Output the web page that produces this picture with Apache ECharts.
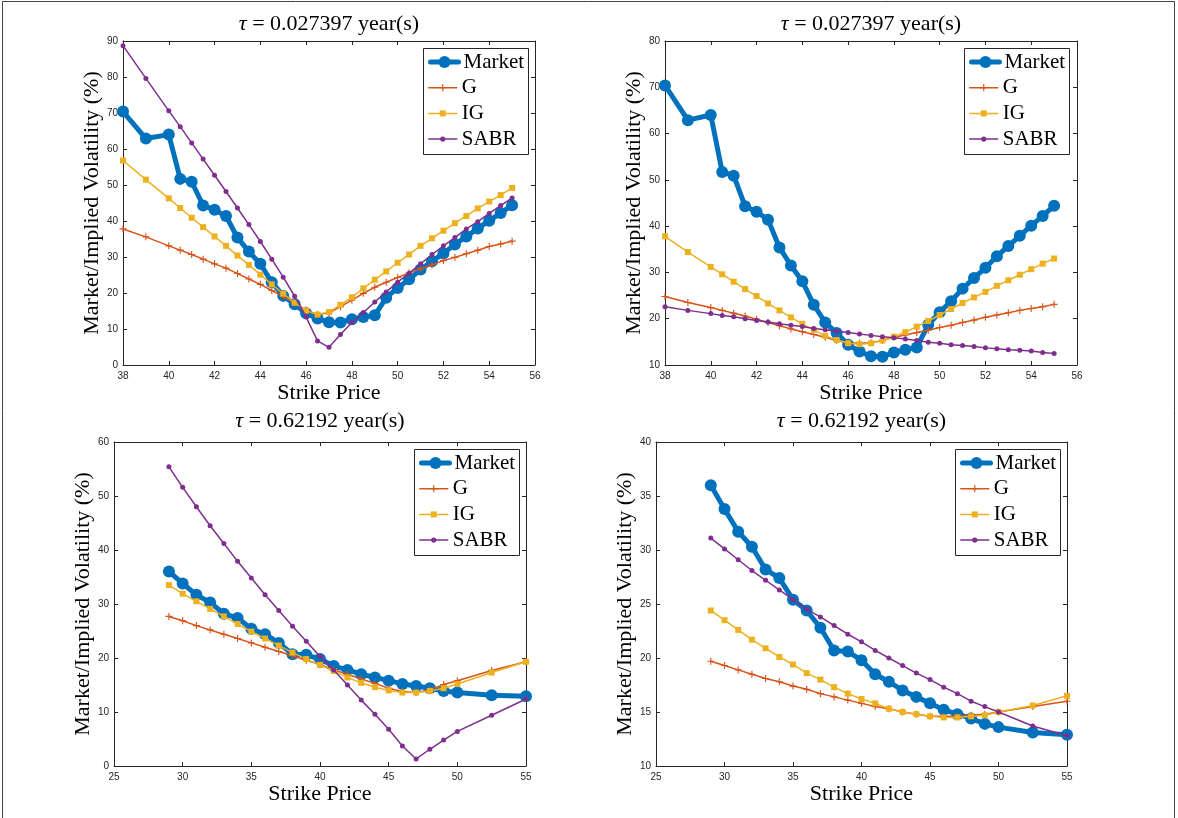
<!DOCTYPE html>
<html><head><meta charset="utf-8">
<script src="https://cdn.jsdelivr.net/npm/echarts@6/dist/echarts.min.js"></script>
<style>html,body{margin:0;padding:0;background:#fff}#c{width:1178px;height:818px}</style>
</head><body><div id="c"></div>
<script>
// ---- data ----
const strikeShort = [38, 39, 40, 40.5, 41, 41.5, 42, 42.5, 43, 43.5, 44, 44.5, 45, 45.5, 46, 46.5, 47, 47.5, 48, 48.5, 49, 49.5, 50, 50.5, 51, 51.5, 52, 52.5, 53, 53.5, 54, 54.5, 55];
const strikeLong = [29, 30, 31, 32, 33, 34, 35, 36, 37, 38, 39, 40, 41, 42, 43, 44, 45, 46, 47, 48, 49, 50, 52.5, 55];

const marketShort = [70.4, 62.9, 64.0, 51.7, 50.9, 44.3, 43.1, 41.4, 35.4, 31.5, 28.1, 23.0, 19.2, 16.9, 14.4, 12.9, 11.9, 11.8, 12.7, 13.3, 13.8, 18.7, 21.4, 23.8, 26.5, 28.8, 31.0, 33.5, 35.7, 37.9, 40.1, 42.2, 44.4];
const gShortA = [37.8, 35.6, 33.1, 31.9, 30.7, 29.4, 28.1, 26.9, 25.4, 23.9, 22.4, 20.7, 19.0, 17.2, 15.3, 14.0, 14.5, 16.2, 18.0, 19.9, 21.6, 23.0, 24.3, 25.6, 26.7, 27.8, 29.0, 29.9, 30.9, 31.9, 32.9, 33.6, 34.4];
const igShortA = [56.8, 51.5, 46.3, 43.6, 40.9, 38.3, 35.7, 33.1, 30.4, 27.8, 25.1, 22.4, 19.8, 17.3, 15.1, 14.0, 14.7, 16.7, 18.8, 21.3, 23.7, 26.0, 28.4, 30.7, 33.1, 35.2, 37.3, 39.4, 41.4, 43.5, 45.4, 47.2, 49.2];
const sabrShortA = [88.7, 79.6, 70.6, 66.2, 61.7, 57.2, 52.7, 48.2, 43.6, 39.0, 34.3, 29.4, 24.4, 19.1, 13.3, 6.7, 4.9, 8.5, 11.8, 14.6, 17.5, 20.3, 23.0, 25.5, 28.1, 30.7, 33.1, 35.4, 37.8, 39.8, 42.1, 44.3, 46.4];
const gShortB = [24.8, 23.5, 22.4, 21.8, 21.2, 20.6, 19.9, 19.2, 18.5, 17.8, 17.2, 16.6, 16.0, 15.3, 14.8, 14.7, 14.8, 15.3, 16.0, 16.5, 17.0, 17.5, 18.1, 18.6, 19.2, 19.7, 20.3, 20.8, 21.3, 21.8, 22.2, 22.6, 23.1];
const igShortB = [37.8, 34.4, 31.2, 29.6, 28.0, 26.4, 24.9, 23.3, 21.8, 20.3, 18.9, 17.6, 16.3, 15.4, 14.7, 14.5, 14.7, 15.3, 16.1, 17.1, 18.3, 19.5, 20.8, 22.1, 23.4, 24.6, 25.8, 27.1, 28.3, 29.5, 30.7, 31.9, 33.0];
const sabrShortB = [22.6, 21.8, 21.1, 20.7, 20.4, 20.0, 19.6, 19.3, 18.9, 18.6, 18.3, 17.9, 17.6, 17.3, 17.0, 16.7, 16.4, 16.1, 15.9, 15.6, 15.3, 14.9, 14.7, 14.4, 14.2, 14.0, 13.7, 13.5, 13.3, 13.2, 13.0, 12.7, 12.5];

const marketLong = [36.0, 33.8, 31.7, 30.3, 28.2, 27.4, 25.4, 24.4, 22.8, 20.7, 20.6, 19.8, 18.5, 17.8, 17.0, 16.4, 15.8, 15.2, 14.8, 14.4, 13.9, 13.6, 13.1, 12.9];
const gLongA = [27.7, 26.9, 26.0, 25.2, 24.4, 23.6, 22.8, 22.0, 21.2, 20.4, 19.6, 18.8, 17.8, 17.0, 16.1, 15.3, 14.4, 13.8, 13.6, 14.1, 15.1, 15.8, 17.7, 19.3];
const igLongA = [33.5, 31.9, 30.5, 29.1, 27.7, 26.3, 24.9, 23.6, 22.3, 21.0, 19.8, 18.7, 17.6, 16.4, 15.4, 14.6, 14.0, 13.6, 13.6, 13.9, 14.4, 15.2, 17.3, 19.3];
const sabrLongA = [55.4, 51.6, 48.0, 44.5, 41.2, 37.9, 34.8, 31.7, 28.8, 25.9, 23.1, 20.3, 17.8, 15.0, 12.2, 9.6, 6.8, 3.7, 1.3, 3.1, 4.8, 6.4, 9.4, 12.4];
const gLongB = [19.7, 19.3, 18.9, 18.5, 18.1, 17.8, 17.4, 17.1, 16.7, 16.4, 16.1, 15.8, 15.5, 15.3, 15.0, 14.8, 14.6, 14.6, 14.6, 14.7, 14.8, 15.0, 15.5, 16.0];
const igLongB = [24.4, 23.5, 22.6, 21.7, 20.9, 20.1, 19.4, 18.6, 18.0, 17.3, 16.7, 16.2, 15.8, 15.3, 15.0, 14.8, 14.6, 14.5, 14.5, 14.6, 14.7, 15.0, 15.6, 16.5];
const sabrLongB = [31.1, 30.1, 29.1, 28.1, 27.2, 26.3, 25.4, 24.5, 23.8, 23.0, 22.2, 21.5, 20.7, 20.0, 19.3, 18.6, 18.0, 17.3, 16.7, 16.0, 15.5, 15.0, 13.7, 12.8];

const seriesNames = ['Market', 'G', 'IG', 'SABR'];
const tauLabels = ['0.027397', '0.027397', '0.62192', '0.62192'];
const xAxisLabel = 'Strike Price';
const yAxisLabel = 'Market/Implied Volatility (%)';

// ---- layout / style ----
const panels = [
  { grid: { left: 123, top: 41, width: 412, height: 324 }, x: [38, 56, 2], y: [0, 90, 10], titleTop: 13, yGap: 19,
    strikes: strikeShort, vals: [marketShort, gShortA, igShortA, sabrShortA], box: [423, 48] },
  { grid: { left: 665, top: 41, width: 412, height: 324 }, x: [38, 56, 2], y: [10, 80, 10], titleTop: 13, yGap: 18,
    strikes: strikeShort, vals: [marketShort, gShortB, igShortB, sabrShortB], box: [964, 48] },
  { grid: { left: 114, top: 442, width: 412, height: 324 }, x: [25, 55, 5], y: [0, 60, 10], titleTop: 410, yGap: 19,
    strikes: strikeLong, vals: [marketLong, gLongA, igLongA, sabrLongA], box: [414, 449] },
  { grid: { left: 656, top: 442, width: 411, height: 324 }, x: [25, 55, 5], y: [10, 40, 5], titleTop: 410, yGap: 19,
    strikes: strikeLong, vals: [marketLong, gLongB, igLongB, sabrLongB], box: [955, 449] }
];

const colors = { Market: '#0072BD', G: '#D95319', IG: '#EDB120', SABR: '#7E2F8E' };
const plusPath = 'path://M-1,-0.16H-0.16V-1H0.16V-0.16H1V0.16H0.16V1H-0.16V0.16H-1Z';
const styles = {
  Market: { symbol: 'circle', size: 12, width: 5, legendH: 15 },
  G: { symbol: plusPath, size: 7, width: 1.5, legendH: 9 },
  IG: { symbol: 'rect', size: 6, width: 1.5, legendH: 7.5 },
  SABR: { symbol: 'circle', size: 5, width: 1.5, legendH: 6.5 }
};
const serif = 'Liberation Serif';
const sans = 'Liberation Sans';
const axCol = '#262626';

const option = { animation: false, grid: [], xAxis: [], yAxis: [], series: [], legend: [], title: [], graphic: [] };

option.graphic.push({ type: 'rect', z: 0, silent: true,
  shape: { x: 2.5, y: 1.5, width: 1172, height: 830 }, style: { fill: 'none', stroke: '#444', lineWidth: 1 } });

panels.forEach((p, i) => {
  option.grid.push(Object.assign({ containLabel: false }, p.grid));
  const baseAxis = {
    type: 'value', gridIndex: i, splitLine: { show: false },
    axisLine: { show: true, onZero: false, lineStyle: { color: axCol, width: 1 } },
    axisTick: { show: true, inside: true, length: 4, lineStyle: { color: axCol } },
    axisLabel: { fontFamily: sans, fontSize: 10, color: axCol }
  };
  option.xAxis.push(Object.assign({}, baseAxis, {
    min: p.x[0], max: p.x[1], interval: p.x[2], position: 'bottom',
    name: xAxisLabel, nameLocation: 'middle', nameGap: 17,
    nameTextStyle: { fontFamily: serif, fontSize: 22, color: '#000' },
    axisLabel: { fontFamily: sans, fontSize: 10, color: axCol, margin: 6 }
  }));
  option.xAxis.push(Object.assign({}, baseAxis, {
    min: p.x[0], max: p.x[1], interval: p.x[2], position: 'top', axisLabel: { show: false }
  }));
  option.yAxis.push(Object.assign({}, baseAxis, {
    min: p.y[0], max: p.y[1], interval: p.y[2], position: 'left',
    name: yAxisLabel, nameLocation: 'middle', nameGap: p.yGap,
    nameTextStyle: { fontFamily: serif, fontSize: 22, color: '#000' },
    axisLabel: { fontFamily: sans, fontSize: 10, color: axCol, margin: 5 }
  }));
  option.yAxis.push(Object.assign({}, baseAxis, {
    min: p.y[0], max: p.y[1], interval: p.y[2], position: 'right', axisLabel: { show: false }
  }));

  option.title.push({
    text: '{i|τ} = ' + tauLabels[i] + ' year(s)',
    left: p.grid.left + p.grid.width / 2, top: p.titleTop, textAlign: 'center', padding: 0,
    textStyle: { fontFamily: serif, fontSize: 22, fontWeight: 'normal', color: '#000',
      rich: { i: { fontFamily: serif, fontSize: 22, fontStyle: 'italic', color: '#000' } } }
  });

  seriesNames.forEach((name, k) => {
    const st = styles[name];
    option.series.push({
      type: 'line', name: name, xAxisIndex: 2 * i, yAxisIndex: 2 * i,
      data: p.strikes.map((s, j) => [s, p.vals[k][j]]),
      symbol: st.symbol, symbolSize: st.size, showSymbol: true,
      lineStyle: { color: colors[name], width: st.width, cap: 'round', join: 'round' },
      itemStyle: { color: colors[name] },
      emphasis: { disabled: true }, silent: true, z: 2 + k * 0.01
    });
    option.legend.push({
      orient: 'vertical', padding: 0, selectedMode: false,
      left: p.box[0] + 5, top: p.box[1] + 14 + k * 25.7 - 10.5,
      itemWidth: 28, itemHeight: st.legendH, itemGap: 0,
      data: [name],
      lineStyle: { width: st.width },
      textStyle: { fontFamily: serif, fontSize: 21, color: '#000', lineHeight: 21 },
      z: 5
    });
  });

  option.graphic.push({ type: 'rect', z: 4, silent: true,
    shape: { x: p.box[0] + 0.5, y: p.box[1] + 0.5, width: 105, height: 106 },
    style: { fill: '#fff', stroke: axCol, lineWidth: 1 } });
});

const chart = echarts.init(document.getElementById('c'), null, { renderer: 'canvas' });
chart.setOption(option);
</script>
</body></html>
